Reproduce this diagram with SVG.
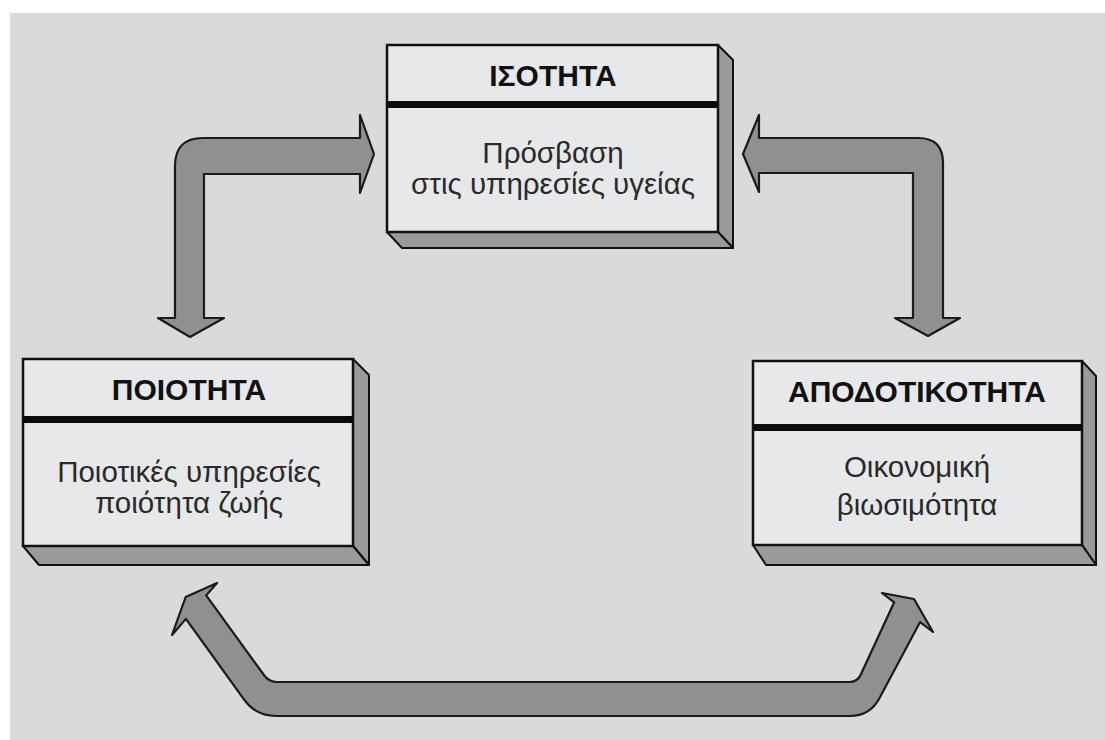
<svg xmlns="http://www.w3.org/2000/svg" width="1105" height="740" viewBox="0 0 1105 740">
  <style>
    .front { fill: #e7e8ea; stroke: #111; stroke-width: 2.5; }
    .depth { fill: #999a9c; stroke: #111; stroke-width: 2; stroke-linejoin: round; }
    .sep { fill: #0a0a0a; }
    .title { font-family: "Liberation Sans", Arial, sans-serif; font-weight: bold; font-size: 30px; fill: #111; text-anchor: middle; }
    .body { font-family: "Liberation Sans", Arial, sans-serif; font-size: 29.5px; fill: #2a2a2a; text-anchor: middle; }
    .arrow { fill: #8f9092; stroke: #1a1a1a; stroke-width: 2.2; stroke-linejoin: round; }
  </style>
  <rect x="0" y="0" width="1105" height="740" fill="#ffffff"/>
  <rect x="10" y="13" width="1095" height="727" fill="#d9dadc"/>

  <g id="connectors">
    <path class="arrow" d="M175,318 L158,318 L190,337 L224,318 L204,318 L204,174 L360,174 L360,193 L374,154 L360,115 L360,138 L203,138 Q175,138 175,166 Z"/>
    <path class="arrow" d="M743,154 L759,115 L759,138 L918,138 Q943,138 943,163 L943,318 L960,318 L928,336 L895,318 L913,318 L913,173 L759,173 L759,192 Z"/>
    <path class="arrow" d="M185.7,597 L217,583 L206.2,595.4 L264.3,675.5 Q269,682 277,682 L849,682 Q857.4,682 860.7,674.7 L894.2,602.3 L882,593 L914,599 L933,632 L920.1,622.1 L879.4,698.3 Q870,716 850,716 L276,716 Q256,716 244.3,699.8 L185.9,618.9 L172,635 Z"/>
  </g>

  <g id="node-isotita">
    <polygon class="depth" points="718,45 733,60 733,248 718,232"/>
    <polygon class="depth" points="387,232 718,232 733,248 402,248"/>
    <rect class="front" x="387" y="45" width="331" height="187"/>
    <rect class="sep" x="387" y="101" width="331" height="7"/>
    <text class="title" x="553" y="86">ΙΣΟΤΗΤΑ</text>
    <text class="body" x="553" y="163">Πρόσβαση</text>
    <text class="body" x="553" y="194">στις υπηρεσίες υγείας</text>
  </g>

  <g id="node-poiotita">
    <polygon class="depth" points="353,359 369,375 369,565 353,546"/>
    <polygon class="depth" points="23,546 353,546 369,565 39,565"/>
    <rect class="front" x="23" y="359" width="330" height="187"/>
    <rect class="sep" x="23" y="416" width="330" height="7"/>
    <text class="title" x="189" y="400">ΠΟΙΟΤΗΤΑ</text>
    <text class="body" x="189" y="482">Ποιοτικές υπηρεσίες</text>
    <text class="body" x="189" y="513">ποιότητα ζωής</text>
  </g>

  <g id="node-apodotikotita">
    <polygon class="depth" points="1082,361 1096,376 1096,565 1082,545"/>
    <polygon class="depth" points="753,545 1082,545 1096,565 766,565"/>
    <rect class="front" x="753" y="361" width="329" height="184"/>
    <rect class="sep" x="753" y="424" width="329" height="7"/>
    <text class="title" x="917" y="402">ΑΠΟΔΟΤΙΚΟΤΗΤΑ</text>
    <text class="body" x="917" y="477">Οικονομική</text>
    <text class="body" x="917" y="515">βιωσιμότητα</text>
  </g>
</svg>
